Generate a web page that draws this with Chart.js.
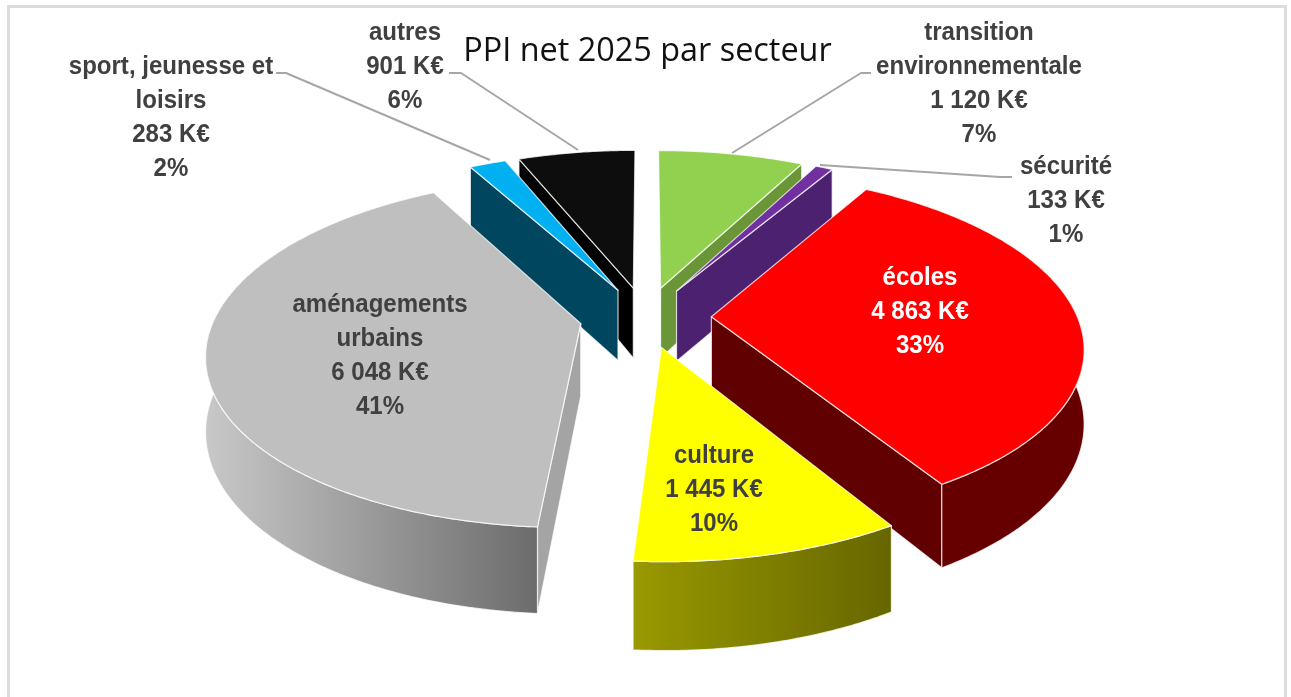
<!DOCTYPE html>
<html><head><meta charset="utf-8">
<style>html,body{margin:0;padding:0;background:#fff}canvas{display:block;filter:blur(0.3px)}</style>
<script src="https://cdn.jsdelivr.net/npm/chart.js@4"></script>
</head><body>
<canvas id="c" width="1291" height="697"></canvas>
<script>
const chartTitle = "PPI net 2025 par secteur";
const categories = ["transition environnementale","sécurité","écoles","culture","aménagements urbains","sport, jeunesse et loisirs","autres"];
const values = [1120,133,4863,1445,6048,283,901];
const valueLabels = ["1 120 K€","133 K€","4 863 K€","1 445 K€","6 048 K€","283 K€","901 K€"];
const percentLabels = ["7%","1%","33%","10%","41%","2%","6%"];
const nameLines = [["transition","environnementale"],["sécurité"],["écoles"],["culture"],["aménagements","urbains"],["sport, jeunesse et","loisirs"],["autres"]];
const topColors = ["#92D050","#7030A0","#FF0000","#FFFF00","#BFBFBF","#00B0F0","#0D0D0D"];
const wallColors = [["#6a9638","#5f8a33"],["#4a2070","#4a2070"],["#660000","#660000"],["#999900","#666600"],["#c8c8c8","#6c6c6c"],["#004560","#004560"],["#000000","#000000"]];
const radialColors = ["#6a9638","#4c216f","#600000","#7a7a00","#a4a4a4","#00465f","#000000"];
const textColors = ["#404040","#404040","#ffffff","#404040","#404040","#404040","#404040"];

// projection of the tilted pie
const G = {cx:645.5, cy:317, R:366, b:168.6, p:0.162, H:72, e:0.18};
const labelAnchors = [[979,33],[1066,167],[920,278],[714,456],[380,305],[171,67],[405,33]];
const lineGap = 34;
const textSqueeze = 0.925;
const leaders = [[[871,73],[861,73],[732,153]],[[1012,177],[1000,177],[820,165]],null,null,null,[[276,73],[286,73],[490,160]],[[449,73],[461,73],[578,150]]];
const drawOrder = [6,0,5,1,4,2,3];

function proj(x,y,z){
  const f = 1/(1-G.p*y);
  return [G.cx + G.R*x*f, G.cy + G.b*y*f + z*G.H*f];
}
const pie3d = {
  id:'pie3d',
  beforeDraw(chart){
    const c = chart.ctx;
    c.save();c.fillStyle='#fff';c.fillRect(0,0,1291,697);
    c.strokeStyle='#dcdcdc';c.lineWidth=3;
    c.beginPath();c.moveTo(8.5,697);c.lineTo(8.5,6.5);c.lineTo(1285.5,6.5);c.lineTo(1285.5,697);c.stroke();
    c.restore();
  },
  beforeDatasetDraw(chart,args){
    const c = chart.ctx, arcs = args.meta.data;
    drawOrder.forEach(i=>{
      const a0 = arcs[i].startAngle, a1 = arcs[i].endAngle, mid=(a0+a1)/2;
      const ox = G.e*Math.cos(mid), oy = G.e*Math.sin(mid);
      const rim=[]; const n=Math.max(4,Math.ceil((a1-a0)/0.01));
      for(let k=0;k<=n;k++){const a=a0+(a1-a0)*k/n; rim.push([ox+Math.cos(a),oy+Math.sin(a),Math.sin(a)]);}
      const poly=(pts,fill)=>{c.beginPath();pts.forEach((p,j)=>j?c.lineTo(p[0],p[1]):c.moveTo(p[0],p[1]));c.closePath();c.fillStyle=fill;c.fill();
        c.strokeStyle='rgba(255,255,255,0.75)';c.lineWidth=1.2;c.lineJoin='round';c.stroke();};
      const A0=proj(ox,oy,0), A1=proj(ox,oy,1);
      const S0=proj(rim[0][0],rim[0][1],0), S1=proj(rim[0][0],rim[0][1],1);
      const E0=proj(rim[n][0],rim[n][1],0), E1=proj(rim[n][0],rim[n][1],1);
      // only the walls that face the viewer are drawn
      if(Math.cos(a0)<0) poly([A0,S0,S1,A1],radialColors[i]);
      if(Math.cos(a1)>0) poly([A0,E0,E1,A1],radialColors[i]);
      const front=rim.filter(p=>p[2]>-0.05);
      if(front.length>1){
        const up=front.map(p=>proj(p[0],p[1],0)), down=front.map(p=>proj(p[0],p[1],1)).reverse();
        const xs=up.map(p=>p[0]);
        const g=c.createLinearGradient(Math.min(...xs),0,Math.max(...xs),0);
        g.addColorStop(0,wallColors[i][0]);g.addColorStop(1,wallColors[i][1]);
        poly(up.concat(down),g);
      }
      poly([A0].concat(rim.map(p=>proj(p[0],p[1],0))),topColors[i]);
    });
    return false;
  },
  afterDatasetsDraw(chart){
    const c = chart.ctx;
    c.save();
    c.strokeStyle='#a6a6a6';c.lineWidth=2;c.lineJoin='round';
    leaders.forEach(l=>{if(!l)return;c.beginPath();l.forEach((p,j)=>j?c.lineTo(p[0],p[1]):c.moveTo(p[0],p[1]));c.stroke();});
    c.font='bold 26px "Liberation Sans"';c.textAlign='center';c.textBaseline='middle';
    categories.forEach((_,i)=>{
      c.fillStyle=textColors[i];
      const lines=nameLines[i].concat([valueLabels[i],percentLabels[i]]);
      lines.forEach((t,j)=>{
        c.save();
        c.translate(labelAnchors[i][0],labelAnchors[i][1]+j*lineGap);
        c.scale(textSqueeze,1);
        c.fillText(t,0,0);
        c.restore();
      });
    });
    c.restore();
  }
};
new Chart(document.getElementById('c'),{
  type:'pie',
  data:{labels:categories,datasets:[{data:values,backgroundColor:topColors,borderWidth:0}]},
  options:{responsive:false,animation:false,rotation:0,layout:{padding:{left:4}},
    plugins:{legend:{display:false},tooltip:{enabled:false},
      title:{display:true,text:chartTitle,color:'#111111',font:{family:'"Open Sans"',size:32.4,weight:'normal'},padding:{top:32,bottom:0}}}},
  plugins:[pie3d]
});
</script>
</body></html>
